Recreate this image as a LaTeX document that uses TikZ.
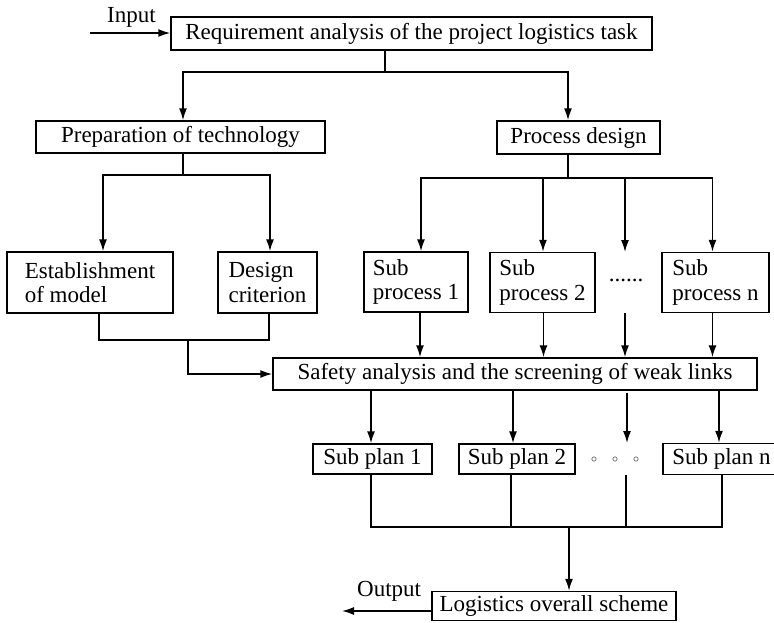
\documentclass[tikz,border=0pt]{standalone}
\usepackage{fontspec}
\setmainfont{Liberation Serif}
\usetikzlibrary{arrows.meta}
\begin{document}
\begin{tikzpicture}[x=1pt,y=-1pt,
  box/.style={draw,line width=1.5pt,inner sep=0pt,minimum height=32pt,font=\fontsize{23}{24.5}\selectfont},
  tbox/.style={box,align=left,minimum height=60pt},
  lbl/.style={inner sep=0pt,font=\fontsize{23}{24.5}\selectfont},
  ln/.style={line width=1.5pt},
  arr/.style={ln,-{Latex[length=12pt,width=8pt]}}]
\useasboundingbox (0,0) rectangle (774,622);
% boxes
\node[box,minimum width=481pt,minimum height=33pt] (top) at (411.5,33.5) {Requirement analysis of the project logistics task};
\node[box,minimum width=289pt] (prep) at (180.5,137) {Preparation of technology};
\node[box,minimum width=163pt,minimum height=33pt] (proc) at (578.5,137.5) {Process design};
\node[tbox,minimum width=166pt,minimum height=61pt] (est) at (90,282.5) {Establishment\\of model};
\node[tbox,minimum width=99pt,minimum height=61pt] (crit) at (267.5,282.5) {Design\\criterion};
\node[tbox,minimum width=104pt] (sp1) at (416,282) {Sub\\process 1};
\node[tbox,minimum width=105pt] (sp2) at (542.5,282.5) {Sub\\process 2};
\node[lbl] (dots1) at (626,280) {......};
\node[tbox,minimum width=107pt] (spn) at (715.5,282.5) {Sub\\process n};
\node[box,minimum width=484pt] (safe) at (515,374) {Safety analysis and the screening of weak links};
\node[box,minimum width=119pt,minimum height=30pt] (spl1) at (372.5,459) {Sub plan 1};
\node[box,minimum width=116pt,minimum height=30pt] (spl2) at (517,459) {Sub plan 2};
\node[inner sep=0pt,font=\fontsize{13}{13}\selectfont] (dots2) at (615,460) {$\circ$\hspace{15pt}$\circ$\hspace{15pt}$\circ$};
\node[box,minimum width=117pt,minimum height=31pt] (spln) at (721.5,459) {Sub plan n};
\node[box,minimum width=244pt,minimum height=29pt] (log) at (554,606) {Logistics overall scheme};
\node[lbl,anchor=base west] (in) at (107,22) {Input};
\node[lbl,anchor=base west] (out) at (357,596) {Output};
% input
\coordinate (inS) at (90,33);
\draw[arr] (inS) -- (inS -| top.west);
% top to level 2
\coordinate (j1) at (385,72);
\coordinate (pa) at ([xshift=2.5pt]prep.north);
\coordinate (pb) at ([xshift=-10.5pt]proc.north);
\draw[ln] (j1 |- top.south) -- (j1);
\draw[arr] (j1) -| (pa);
\draw[arr] (j1) -| (pb);
% prep to est/crit
\coordinate (j2) at (183,175);
\coordinate (ea) at ([xshift=13pt]est.north);
\coordinate (ca) at ([xshift=2.5pt]crit.north);
\draw[ln] (j2 |- prep.south) -- (j2);
\draw[arr] (j2) -| (ea);
\draw[arr] (j2) -| (ca);
% proc to sub processes
\coordinate (j3) at (568,178);
\coordinate (s1a) at ([xshift=5pt]sp1.north);
\coordinate (s2a) at ([xshift=0.5pt]sp2.north);
\coordinate (d1t) at (625,252);
\coordinate (sna) at ([xshift=-3pt]spn.north);
\draw[ln] (j3 |- proc.south) -- (j3);
\draw[arr] (j3) -| (s1a);
\draw[arr] (j3) -| (s2a);
\draw[arr] (j3) -| (d1t);
\draw[arr] (j3) -| (sna);
% sub processes to safety
\coordinate (s1b) at ([xshift=4pt]sp1.south);
\coordinate (s2b) at ([xshift=1pt]sp2.south);
\coordinate (d1b) at (625,313);
\coordinate (snb) at ([xshift=-3pt]spn.south);
\draw[arr] (s1b) -- (s1b |- safe.north);
\draw[arr] (s2b) -- (s2b |- safe.north);
\draw[arr] (d1b) -- (d1b |- safe.north);
\draw[arr] (snb) -- (snb |- safe.north);
% est/crit to safety
\coordinate (eb) at ([xshift=9pt]est.south);
\coordinate (cb) at ([xshift=1.5pt]crit.south);
\coordinate (j4) at (188,340);
\draw[ln] (eb) -- (eb |- j4) -- (cb |- j4) -- (cb);
\draw[arr] (j4) |- (safe.west);
% safety to sub plans
\coordinate (p1a) at ([xshift=-1.5pt]spl1.north);
\coordinate (p2a) at ([xshift=-4pt]spl2.north);
\coordinate (d2t) at (627,393);
\coordinate (d2e) at (627,443);
\coordinate (pna) at ([xshift=-2.5pt]spln.north);
\draw[arr] (p1a |- safe.south) -- (p1a);
\draw[arr] (p2a |- safe.south) -- (p2a);
\draw[arr] (d2t) -- (d2e);
\draw[arr] (pna |- safe.south) -- (pna);
% sub plans to merge
\coordinate (m) at (569,527);
\coordinate (p1b) at ([xshift=-1.5pt]spl1.south);
\coordinate (p2b) at ([xshift=-6pt]spl2.south);
\coordinate (d2b) at (626,475);
\coordinate (pnb) at ([xshift=0.5pt]spln.south);
\draw[ln] (p1b) -- (p1b |- m) -- (pnb |- m) -- (pnb);
\draw[ln] (p2b) -- (p2b |- m);
\draw[ln] (d2b) -- (d2b |- m);
\draw[arr] (m) -- (m |- log.north);
% output
\coordinate (ow) at ([yshift=-5pt]log.west);
\coordinate (o) at (342,0);
\draw[arr] (ow) -- (ow -| o);
\end{tikzpicture}
\end{document}
